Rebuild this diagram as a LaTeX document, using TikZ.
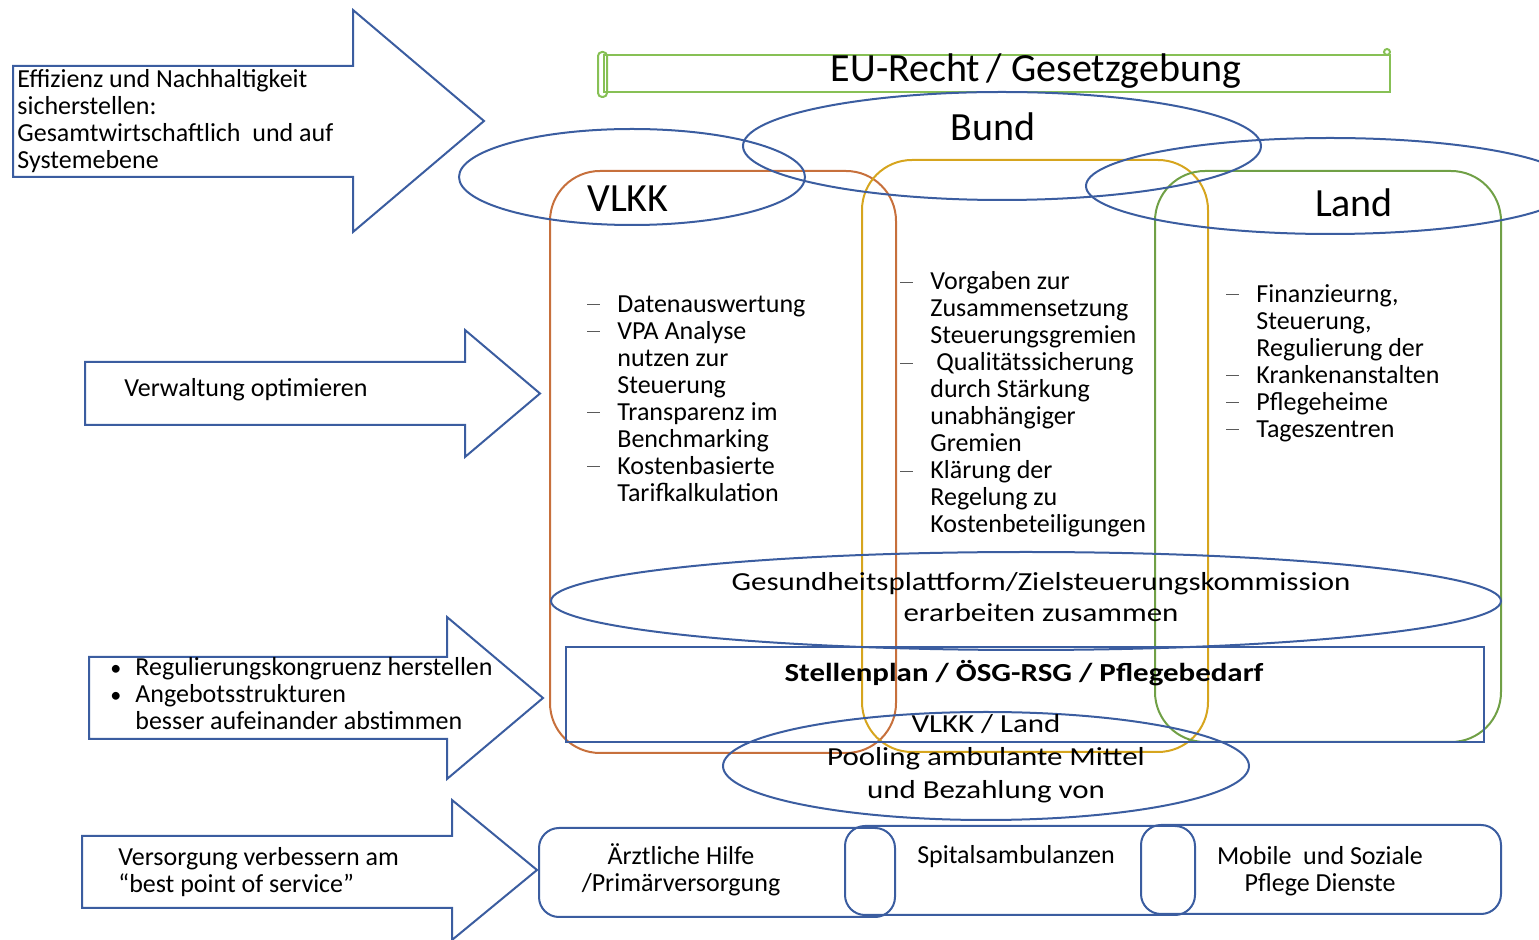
\documentclass[tikz,border=0pt]{standalone}
\usepackage{fontspec}
\setmainfont{Carlito}
\usepackage{tikz}
\usepackage{graphicx}

\definecolor{shapeblue}{RGB}{59,93,160}
\definecolor{vlkkorange}{RGB}{199,112,60}
\definecolor{bundgold}{RGB}{214,165,30}
\definecolor{landgreen}{RGB}{112,160,70}
\definecolor{scrollgreen}{RGB}{135,192,85}
\definecolor{dashgray}{RGB}{90,90,90}

\newcommand*{\listdash}{\makebox[15pt][l]{\textcolor{dashgray}{\rule[0.27em]{6.5pt}{0.45pt}}}}
\newcommand*{\listind}{\hspace*{15pt}}
\newcommand*{\listbullet}{\makebox[12.5pt][l]{\scalebox{0.85}{\textbullet}}}
\newcommand*{\wide}[2][1.19]{\scalebox{#1}[1]{#2}}

\begin{document}
\begin{tikzpicture}[x=0.5pt, y=-0.5pt,
	outline/.style={draw=shapeblue, line width=1pt},
	scroll/.style={draw=scrollgreen, line width=1pt},
	column/.style={line width=1pt, rounded corners=25pt},
	carebox/.style={outline, rounded corners=10pt},
	smalltext/.style={inner sep=0pt, font=\fontsize{13}{13.5}\selectfont},
	bigtext/.style={inner sep=0pt, font=\fontsize{20}{23}\selectfont},
	listtext/.style={smalltext, align=left, anchor=north west}]

\path[use as bounding box] (0,0) rectangle (1539,940);
\clip (0,0) rectangle (1539,940);

%\blockarrow{left}{top}{bottom}{headx}{headtop}{headbottom}{tipx}
\newcommand*{\blockarrow}[7]{%
	\draw [outline] (#1,#2) -- (#4,#2) -- (#4,#5) -- (#7,{(#5+#6)/2})
		-- (#4,#6) -- (#4,#3) -- (#1,#3) -- cycle;
}

% arrows
\blockarrow{13}{66}{177}{353}{10}{232}{484}
\blockarrow{85}{362}{425}{465}{330}{457}{540}
\blockarrow{89}{657}{739}{447}{617}{779}{543}
\blockarrow{82}{836}{908}{452}{800}{940}{537}

\node [listtext] (effizienz) at (17,69) {Effizienz und Nachhaltigkeit\\sicherstellen:\\Gesamtwirtschaftlich\ \ und auf\\Systemebene};
\node [smalltext, anchor=west] (verwaltung) at (124,390) {Verwaltung optimieren};
\node [listtext] (regulierung) at (110,657) {\listbullet Regulierungskongruenz herstellen\\\listbullet Angebotsstrukturen\\\hspace*{12.5pt}besser aufeinander abstimmen};
\node [listtext] (versorgung) at (118,847) {Versorgung verbessern am\\“best point of service”};

% eu scroll
\draw [scroll] (604,55) rectangle (1390,92);
\draw [scroll, rounded corners=2pt] (598,52) rectangle (607,97);
\draw [scroll] (1387,52) circle [radius=3];
\node [bigtext] (eurecht) at (1036,71) {EU-Recht\,/ Gesetzgebung};

% columns
\draw [column, vlkkorange] (550,171) rectangle (896,753);
\draw [column, bundgold] (862,160) rectangle (1208,752);
\draw [column, landgreen] (1155,171) rectangle (1501,742);

% ellipses
\draw [outline] (632,177) ellipse [x radius=173, y radius=48];
\draw [outline] (1002,146) ellipse [x radius=259, y radius=54];
\draw [outline] (1330,186) ellipse [x radius=244, y radius=48];
\draw [outline] (1026,601) ellipse [x radius=475, y radius=49];
\draw [outline] (986,766) ellipse [x radius=263, y radius=54];

\node [bigtext] (bund) at (993,127) {Bund};
\node [bigtext] (vlkk) at (628,199) {VLKK};
\node [bigtext] (land) at (1354,203) {Land};

% column texts
\node [listtext] (vlkklist) at (587,295) {\listdash Datenauswertung\\\listdash VPA Analyse\\\listind nutzen zur\\\listind Steuerung\\\listdash Transparenz im\\\listind Benchmarking\\\listdash Kostenbasierte\\\listind Tarifkalkulation};
\node [listtext] (bundlist) at (900,271) {\listdash Vorgaben zur\\\listind Zusammensetzung\\\listind Steuerungsgremien\\\listdash \ Qualitätssicherung\\\listind durch Stärkung\\\listind unabhängiger\\\listind Gremien\\\listdash Klärung der\\\listind Regelung zu\\\listind Kostenbeteiligungen};
\node [listtext] (landlist) at (1226,284) {\listdash Finanzieurng,\\\listind Steuerung,\\\listind Regulierung der\\\listdash Krankenanstalten\\\listdash Pflegeheime\\\listdash Tageszentren};

\node [smalltext, align=center] (plattform) at (1041,597.5) {\wide{Gesundheitsplattform/Zielsteuerungskommission}\\[2pt]\wide{erarbeiten zusammen}};

% stellenplan
\draw [outline] (566,647) rectangle (1484,742);
\node [smalltext, font=\fontsize{13}{13.5}\selectfont\bfseries] (stellenplan) at (1024,673) {\wide{Stellenplan / ÖSG-RSG / Pflegebedarf}};
\node [smalltext, align=center] (pooling) at (986,759) {\wide{VLKK / Land}\\[3pt]\wide{Pooling ambulante Mittel}\\[3pt]\wide{und Bezahlung von}};

% care boxes
\draw [carebox] (539,828) rectangle (895,917);
\draw [carebox] (845,826) rectangle (1195,915);
\draw [carebox] (1141,825) rectangle (1501,914);
\node [smalltext, align=center] (aerztlich) at (681,869.5) {Ärztliche Hilfe\\/Primärversorgung};
\node [smalltext] (spital) at (1016,857) {Spitalsambulanzen};
\node [smalltext, align=center] (mobile) at (1320,871.5) {Mobile\ \ und Soziale\\Pflege Dienste};

\end{tikzpicture}
\end{document}
